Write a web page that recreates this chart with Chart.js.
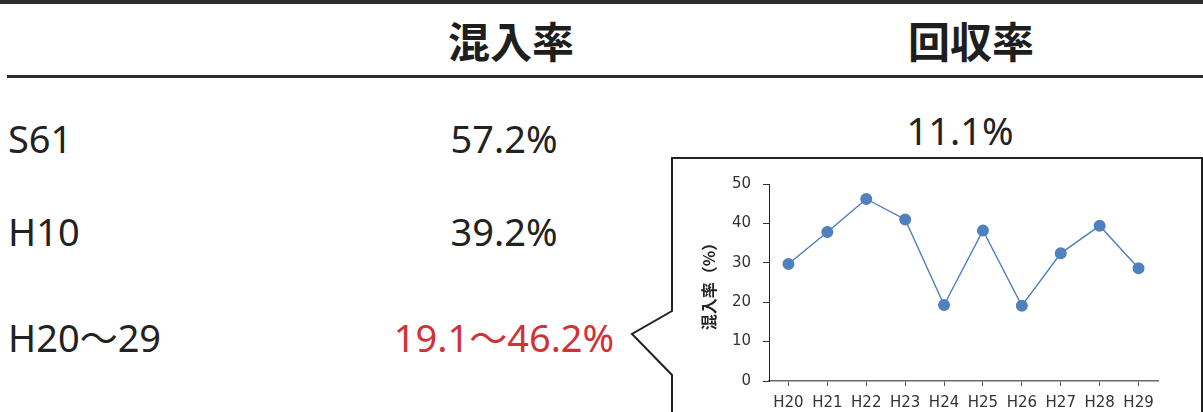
<!DOCTYPE html>
<html lang="ja">
<head>
<meta charset="utf-8">
<title>混入率・回収率</title>
<script src="https://cdn.jsdelivr.net/npm/chart.js@4.4.1/dist/chart.umd.min.js"></script>
<style>
  html, body { margin: 0; padding: 0; background: #fff; }
  #page { position: relative; width: 1203px; height: 412px; overflow: hidden; background: #fff; }
  .rule { position: absolute; background: #2b2b2b; }
  .txt { position: absolute; line-height: 1; white-space: nowrap; color: #222;
         font-family: "Noto Sans", "Noto Sans CJK JP", sans-serif; font-size: 38px; }
  .head { position: absolute; line-height: 1; white-space: nowrap; color: #1e1e1e;
          font-family: "Noto Sans CJK JP", sans-serif; font-weight: 700; font-size: 42px; }
  .red { color: #cf3338; }
  #frame { position: absolute; left: 0; top: 0; }
  #chartBox { position: absolute; left: 674px; top: 160px; width: 527px; height: 252px; }
</style>
</head>
<body>
<div id="page">
  <div class="rule" style="left:0;top:0;width:1203px;height:4px;"></div>
  <div class="rule" style="left:7px;top:75px;width:1196px;height:3px;"></div>

  <div class="head" style="left:448px;top:19px;">混入率</div>
  <div class="head" style="left:908px;top:19px;">回収率</div>

  <div id="rows"></div>

  <svg id="frame" width="1203" height="412">
    <polyline points="1202,414 1202,158 672,158 672,311 632,334 672,375 672,414"
              fill="none" stroke="#222" stroke-width="2" stroke-linejoin="miter"/>
  </svg>
  <div id="chartBox"><canvas id="c"></canvas></div>
</div>

<script>
// Table rows: period, 混入率, 回収率
const periods   = ["S61", "H10", "H20〜29"];
const mixRates  = ["57.2%", "39.2%", "19.1〜46.2%"];
const recovery  = ["11.1%", "", ""];

// Yearly 混入率 (%) for H20–H29
const years     = ["H20", "H21", "H22", "H23", "H24", "H25", "H26", "H27", "H28", "H29"];
const mixByYear = [29.7, 37.8, 46.2, 41.0, 19.3, 38.2, 19.1, 32.4, 39.4, 28.6];
const yTicks    = [0, 10, 20, 30, 40, 50];

// table text, placed by baseline
const rowBaselines = [153, 246, 352];
const rows = document.getElementById("rows");
function addText(str, x, baseline, align, cls) {
  const d = document.createElement("div");
  d.className = "txt" + (cls ? " " + cls : "");
  d.textContent = str;
  d.style.top = (baseline - 33.7) + "px";
  rows.appendChild(d);
  const w = d.getBoundingClientRect().width;
  d.style.left = (align === "center" ? x - w / 2 : x) + "px";
}
periods.forEach((p, i) => addText(p, 8, rowBaselines[i], "left"));
mixRates.forEach((m, i) => addText(m, 504, rowBaselines[i], "center", i === 2 ? "red" : ""));
recovery.forEach((r, i) => { if (r) addText(r, 960, rowBaselines[i] - 8, "center"); });

// inset line chart
const tickFont = { family: "DejaVu Sans", size: 15 };
new Chart(document.getElementById("c"), {
  type: "line",
  data: {
    labels: years,
    datasets: [{
      data: mixByYear,
      borderColor: "#4a7ebb",
      borderWidth: 1.4,
      backgroundColor: "#4f81bd",
      pointBackgroundColor: "#4f81bd",
      pointBorderColor: "#4f81bd",
      pointRadius: 5.3,
      pointHoverRadius: 5.3,
      tension: 0,
      fill: false
    }]
  },
  options: {
    responsive: true,
    maintainAspectRatio: false,
    animation: false,
    devicePixelRatio: 1,
    layout: { padding: { left: 0, right: 43, top: 24, bottom: 1 } },
    plugins: { legend: { display: false }, tooltip: { enabled: false } },
    scales: {
      x: {
        type: "category",
        offset: true,
        afterFit: (scale) => { scale.height = 30; },
        border: { display: true, color: "#6a6a6a", width: 1.5 },
        grid: { display: true, drawOnChartArea: false, drawTicks: true, tickLength: 5, offset: false, color: "#555" },
        ticks: { color: "#333", font: tickFont, padding: 8, maxRotation: 0, autoSkip: false }
      },
      y: {
        min: yTicks[0],
        max: yTicks[yTicks.length - 1],
        afterBuildTicks: (scale) => { scale.ticks = yTicks.map(v => ({ value: v })); },
        afterFit: (scale) => { scale.width = 95; },
        border: { display: true, color: "#222", width: 1 },
        grid: { display: true, drawOnChartArea: false, drawTicks: true, tickLength: 6, color: "#333" },
        ticks: { color: "#333", font: tickFont, padding: 12 },
        title: {
          display: true,
          text: "混入率（%）",
          color: "#222",
          font: { family: "Noto Sans CJK JP", size: 16, weight: "bold" },
          padding: { top: 25, bottom: 0 }
        }
      }
    }
  }
});
</script>
</body>
</html>
